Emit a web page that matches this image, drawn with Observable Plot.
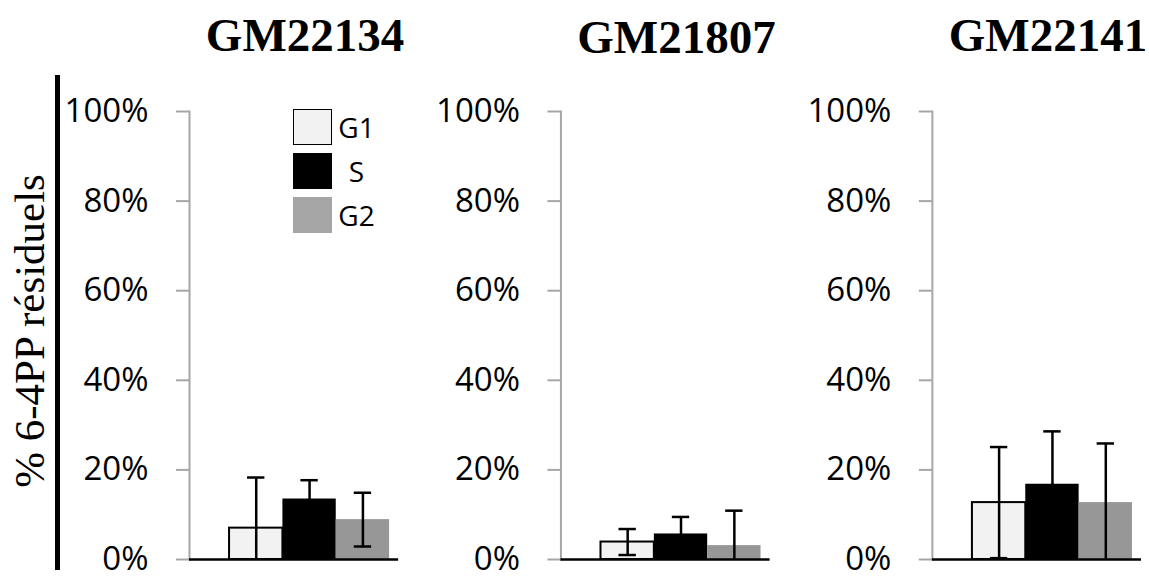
<!DOCTYPE html>
<html>
<head>
<meta charset="utf-8">
<script src="https://cdn.jsdelivr.net/npm/d3@7"></script>
<script src="https://cdn.jsdelivr.net/npm/@observablehq/plot@0.6"></script>
<style>
  html, body { margin: 0; padding: 0; background: #fff; }
  #wrap { position: relative; width: 1149px; height: 577px; overflow: hidden; }
  #chart { position: absolute; left: 0; top: 0; }
  #ylabel {
    position: absolute; left: 28.5px; top: 331px;
    transform: translate(-50%, -50%) rotate(-90deg);
    font-family: "Liberation Serif", "DejaVu Serif", serif; font-size: 43px;
    line-height: 1; white-space: nowrap; color: #000;
  }
  #vbar { position: absolute; left: 55px; top: 75px; width: 5px; height: 495px; background: #000; }
  .sw { position: absolute; left: 293px; width: 39px; height: 36px; box-sizing: border-box; }
  .lt { position: absolute; left: 356.5px; transform: translate(-50%, -50%);
        font-family: "Open Sans", sans-serif; font-size: 28px; line-height: 1; color: #000; }
</style>
</head>
<body>
<div id="wrap">
  <div id="chart"></div>
  <div id="vbar"></div>
  <div id="ylabel">% 6-4PP résiduels</div>
  <div id="legend"></div>
</div>
<script>
const cells = ["GM22134", "GM21807", "GM22141"];
const phases = ["G1", "S", "G2"];
const meanGM22134 = [7.0, 13.5, 8.9];
const sdGM22134 = [11.3, 4.2, 6.0];
const meanGM21807 = [3.9, 5.7, 3.1];
const sdGM21807 = [2.9, 3.8, 7.8];
const meanGM22141 = [12.7, 16.8, 12.7];
const sdGM22141 = [12.4, 11.8, 13.2];
const yTicks = [0, 20, 40, 60, 80, 100];
const barColors = ["#f2f2f2", "#000000", "#979797"];
const legendColors = ["#f2f2f2", "#000000", "#a6a6a6"];

const means = {GM22134: meanGM22134, GM21807: meanGM21807, GM22141: meanGM22141};
const sds = {GM22134: sdGM22134, GM21807: sdGM21807, GM22141: sdGM22141};
const rows = cells.flatMap(c => phases.map((p, i) => ({
  cell: c, phase: p, mean: means[c][i],
  lo: Math.max(0, means[c][i] - sds[c][i]), hi: means[c][i] + sds[c][i],
  loRaw: means[c][i] - sds[c][i]
})));

const chart = Plot.plot({
  width: 1149, height: 577,
  marginTop: 111, marginBottom: 18, marginLeft: 189, marginRight: 8,
  style: {fontFamily: "Open Sans, sans-serif", fontSize: "33px", color: "#000", background: "#fff"},
  fx: {domain: cells, paddingInner: 0.437, paddingOuter: 0, round: false, axis: null},
  x: {domain: phases, paddingInner: 0, paddingOuter: 0.46, align: 0.816, round: false, axis: null},
  y: {domain: [0, 100]},
  color: {domain: phases, range: barColors},
  marks: [
    Plot.frame({anchor: "left", stroke: "#a6a6a6", strokeWidth: 2}),
    Plot.axisY({ticks: yTicks, tickFormat: d => d + "%", tickSize: 13, tickPadding: 28,
      stroke: "#a6a6a6", strokeWidth: 2, fill: "#000", label: null, facetAnchor: null,
      fontSize: 33, fontFamily: "Open Sans, sans-serif"}),
    Plot.barY(rows, {fx: "cell", x: "phase", y: "mean", fill: "phase"}),
    Plot.barY(rows.filter(d => d.phase === "G1"), {fx: "cell", x: "phase", y: "mean", fill: "none", stroke: "#000", strokeWidth: 2}),
    Plot.ruleX(rows, {fx: "cell", x: "phase", y1: "lo", y2: "hi", stroke: "#000", strokeWidth: 2.5}),
    Plot.tickY(rows, {fx: "cell", x: "phase", y: "hi", stroke: "#000", strokeWidth: 2.5, insetLeft: 18, insetRight: 18}),
    Plot.tickY(rows.filter(d => d.loRaw > 0), {fx: "cell", x: "phase", y: "lo", stroke: "#000", strokeWidth: 2.5, insetLeft: 18, insetRight: 18}),
    Plot.ruleY([0], {stroke: "#000", strokeWidth: 2.5}),
    Plot.text(cells.filter(c => c !== "GM21807"), {fx: d => d, text: d => d, frameAnchor: "top", lineAnchor: "bottom",
      dy: -61, dx: 11, fontFamily: "Liberation Serif, serif", fontWeight: "bold", fontSize: 47, fill: "#000"}),
    Plot.text(cells.filter(c => c === "GM21807"), {fx: d => d, text: d => d, frameAnchor: "top", lineAnchor: "bottom",
      dy: -59, dx: 11, fontFamily: "Liberation Serif, serif", fontWeight: "bold", fontSize: 47, fill: "#000"})
  ]
});
document.getElementById("chart").appendChild(chart);

const legend = document.getElementById("legend");
phases.forEach((p, i) => {
  const top = 109 + i * 44;
  const sw = document.createElement("div");
  sw.className = "sw";
  sw.style.top = top + "px";
  sw.style.background = legendColors[i];
  if (p === "G1") sw.style.border = "1.5px solid #000";
  legend.appendChild(sw);
  const t = document.createElement("div");
  t.className = "lt";
  t.style.top = (top + 18) + "px";
  t.textContent = p;
  legend.appendChild(t);
});
</script>
</body>
</html>
